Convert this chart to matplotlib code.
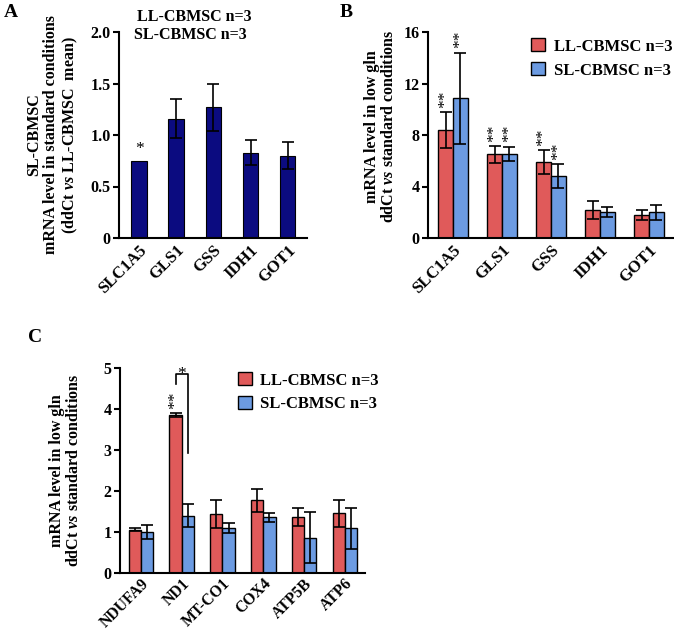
import numpy as np
import matplotlib
matplotlib.use("Agg")
import matplotlib.pyplot as plt

plt.rcParams["font.family"] = ["Liberation Serif", "DejaVu Serif"]
plt.rcParams["font.weight"] = "bold"
plt.rcParams["axes.labelweight"] = "bold"
plt.rcParams["mathtext.fontset"] = "custom"
plt.rcParams["mathtext.it"] = "Liberation Serif:italic"
plt.rcParams["mathtext.rm"] = "Liberation Serif:bold"

# panel A
genes_a = ["SLC1A5", "GLS1", "GSS", "IDH1", "GOT1"]
sl_std = [0.75, 1.16, 1.27, 0.83, 0.80]
sl_std_err = [0.0, 0.19, 0.23, 0.12, 0.13]

# panel B
genes_b = ["SLC1A5", "GLS1", "GSS", "IDH1", "GOT1"]
ll_gln = [8.4, 6.5, 5.9, 2.15, 1.8]
ll_gln_err = [1.4, 0.65, 0.95, 0.7, 0.4]
sl_gln = [10.85, 6.55, 4.8, 2.0, 2.0]
sl_gln_err = [3.55, 0.55, 0.95, 0.4, 0.6]
ll_sig_b = ["**", "**", "**", "", ""]
sl_sig_b = ["**", "**", "**", "", ""]

# panel C
genes_c = ["NDUFA9", "ND1", "MT-CO1", "COX4", "ATP5B", "ATP6"]
ll_mito = [1.06, 3.85, 1.43, 1.78, 1.36, 1.46]
ll_mito_err = [0.03, 0.05, 0.34, 0.28, 0.22, 0.33]
sl_mito = [1.01, 1.40, 1.09, 1.36, 0.86, 1.09]
sl_mito_err = [0.17, 0.28, 0.12, 0.11, 0.62, 0.50]
ll_sig_c = ["", "**", "", "", "", ""]
bracket_c = (4.6, 4.85, 2.93)  # left leg bottom, top, right leg bottom

RED = "#e05a5a"
BLUE = "#6c9be2"
NAVY = "#0b0b80"

fig = plt.figure(figsize=(6.74, 6.32), dpi=100)


def style_axis(ax, xsize=12):
    for s in ["top", "right"]:
        ax.spines[s].set_visible(False)
    for s in ["left", "bottom"]:
        ax.spines[s].set_linewidth(1.5)
    ax.tick_params(axis="x", length=0, labelsize=xsize, pad=3)
    ax.tick_params(axis="y", length=4, width=1.5, labelsize=11.5, pad=2)


def set_xlabels(ax, labels):
    ax.set_xticks(range(len(labels)))
    ax.set_xticklabels(labels, rotation=45, ha="right", rotation_mode="anchor")


def stars(ax, xpos, ytop, s):
    ax.annotate(s, (xpos, ytop), xytext=(0, 3), textcoords="offset points",
                ha="center", va="bottom", rotation=90, fontsize=12.5, fontweight="normal")


err_kw = dict(ecolor="black", capsize=4, error_kw=dict(elinewidth=1.2, capthick=1.2))

# ---- A
axA = fig.add_axes([119 / 674, 1 - 238 / 632, 188 / 674, 206 / 632])
x = np.arange(len(genes_a))
yerr = [e if e > 0 else np.nan for e in sl_std_err]
axA.bar(x, sl_std, width=0.42, color=NAVY, edgecolor="black", linewidth=0.8,
        yerr=yerr, **err_kw)
axA.text(x[0], sl_std[0] + 0.04, "*", ha="center", va="bottom", fontsize=12.5, fontweight="normal")
axA.set_xlim(-0.54, 4.52)
axA.set_ylim(0, 2.0)
axA.set_yticks([0, 0.5, 1.0, 1.5, 2.0])
axA.set_yticklabels(["0", "0.5", "1.0", "1.5", "2.0"])
set_xlabels(axA, genes_a)
style_axis(axA)
axA.set_ylabel("SL-CBMSC\nmRNA level in standard conditions\n(ddCt $\\mathit{vs}$ LL-CBMSC  mean)",
               fontsize=11.5, linespacing=1.1)
axA.yaxis.set_label_coords(-0.21, 0.5)
axA.text(0.4, 1.075, "LL-CBMSC n=3", transform=axA.transAxes, ha="center", va="center", fontsize=11.5)
axA.text(0.38, 0.985, "SL-CBMSC n=3", transform=axA.transAxes, ha="center", va="center", fontsize=11.5)

# ---- B
axB = fig.add_axes([428 / 674, 1 - 238 / 632, 246 / 674, 206 / 632])
x = np.arange(len(genes_b))
w = 0.3
axB.bar(x - w / 2, ll_gln, width=w, color=RED, edgecolor="black", linewidth=1,
        yerr=ll_gln_err, label="LL-CBMSC n=3", **err_kw)
axB.bar(x + w / 2, sl_gln, width=w, color=BLUE, edgecolor="black", linewidth=1,
        yerr=sl_gln_err, label="SL-CBMSC n=3", **err_kw)
for i in range(len(x)):
    if ll_sig_b[i]:
        stars(axB, x[i] - w / 2, ll_gln[i] + ll_gln_err[i], ll_sig_b[i])
    if sl_sig_b[i]:
        stars(axB, x[i] + w / 2, sl_gln[i] + sl_gln_err[i], sl_sig_b[i])
axB.set_xlim(-0.51, 4.51)
axB.set_ylim(0, 16)
axB.set_yticks([0, 4, 8, 12, 16])
set_xlabels(axB, genes_b)
style_axis(axB)
axB.set_ylabel("mRNA level in low gln\nddCt $\\mathit{vs}$ standard conditions", fontsize=11.5, linespacing=1.1)
axB.yaxis.set_label_coords(-0.125, 0.54)
axB.legend(loc="upper left", bbox_to_anchor=(0.42, 0.97), frameon=False, fontsize=12,
           handlelength=0.85, handleheight=0.85, handletextpad=0.5, labelspacing=0.45,
           borderaxespad=0, borderpad=0)

# ---- C
axC = fig.add_axes([120 / 674, 1 - 573 / 632, 245 / 674, 205 / 632])
x = np.arange(len(genes_c))
w = 0.3
axC.bar(x - w / 2, ll_mito, width=w, color=RED, edgecolor="black", linewidth=1,
        yerr=ll_mito_err, label="LL-CBMSC n=3", **err_kw)
axC.bar(x + w / 2, sl_mito, width=w, color=BLUE, edgecolor="black", linewidth=1,
        yerr=sl_mito_err, label="SL-CBMSC n=3", **err_kw)
for i in range(len(x)):
    if ll_sig_c[i]:
        stars(axC, x[i] - w / 2, ll_mito[i] + ll_mito_err[i], ll_sig_c[i])
# significance bracket ND1 LL vs SL
xl, xr = 1 - w / 2, 1 + w / 2
axC.plot([xl, xl, xr, xr], [bracket_c[0], bracket_c[1], bracket_c[1], bracket_c[2]],
         color="black", lw=1.2, clip_on=False)
axC.text((xl + xr) / 2, bracket_c[1], "*", ha="center", va="center", fontsize=12.5,
         fontweight="normal")
axC.set_xlim(-0.51, 5.49)
axC.set_ylim(0, 5)
axC.set_yticks([0, 1, 2, 3, 4, 5])
set_xlabels(axC, genes_c)
style_axis(axC, xsize=11.3)
axC.tick_params(axis="x", pad=2)
axC.set_ylabel("mRNA level in low gln\nddCt $\\mathit{vs}$ standard conditions", fontsize=11.5, linespacing=1.1)
axC.yaxis.set_label_coords(-0.155, 0.5)
axC.legend(loc="upper left", bbox_to_anchor=(0.48, 0.98), frameon=False, fontsize=12,
           handlelength=0.85, handleheight=0.85, handletextpad=0.5, labelspacing=0.45,
           borderaxespad=0, borderpad=0)

# panel letters
fig.text(4 / 674, 1 - 17 / 632, "A", fontsize=14, fontweight="bold")
fig.text(340 / 674, 1 - 17 / 632, "B", fontsize=14, fontweight="bold")
fig.text(28 / 674, 1 - 342 / 632, "C", fontsize=14, fontweight="bold")

fig.savefig("out.png", dpi=100)
